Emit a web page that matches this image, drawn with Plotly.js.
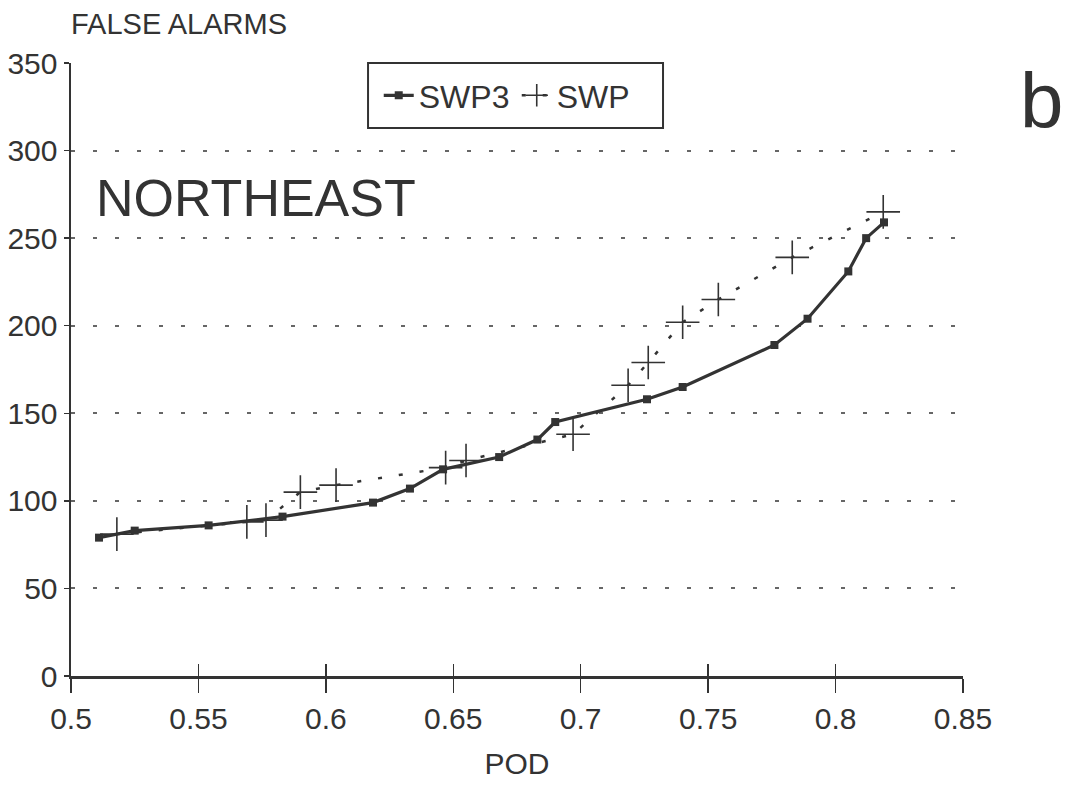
<!DOCTYPE html>
<html>
<head>
<meta charset="utf-8">
<script src="https://cdn.plot.ly/plotly-3.0.1.min.js"></script>
<style>html,body{margin:0;padding:0;background:#fff;}#chart{width:1068px;height:785px;}</style>
</head>
<body>
<div id="chart"></div>
<script>
// SWP3 series (solid line, square markers)
const swp3Pod = [0.511, 0.525, 0.554, 0.583, 0.6185, 0.633, 0.646, 0.668, 0.683, 0.690, 0.726, 0.740, 0.776, 0.789, 0.805, 0.812, 0.819];
const swp3FalseAlarms = [79, 83, 86, 91, 99, 107, 118, 125, 135, 145, 158, 165, 189, 204, 231, 250, 259];
// SWP series (dotted line, plus markers)
const swpPod = [0.518, 0.569, 0.5765, 0.590, 0.604, 0.647, 0.655, 0.697, 0.7186, 0.7265, 0.740, 0.754, 0.783, 0.8187];
const swpFalseAlarms = [81, 88, 89, 105, 109, 119, 123, 138, 166, 179, 202, 215, 239, 265];
// Axis ticks
const xTicks = [0.5, 0.55, 0.6, 0.65, 0.7, 0.75, 0.8, 0.85];
const xTickLabels = ['0.5', '0.55', '0.6', '0.65', '0.7', '0.75', '0.8', '0.85'];
const yTicks = [0, 50, 100, 150, 200, 250, 300, 350];
const yTickLabels = ['0', '50', '100', '150', '200', '250', '300', '350'];

const ink = '#333333';
const font = 'Liberation Sans, Arial, sans-serif';

const traces = [
  {
    x: swp3Pod, y: swp3FalseAlarms, name: 'SWP3', type: 'scatter', mode: 'lines+markers',
    line: {color: ink, width: 3.2},
    marker: {symbol: 'square', size: 8, color: ink}
  },
  {
    x: swpPod, y: swpFalseAlarms, name: 'SWP', type: 'scatter', mode: 'lines+markers',
    line: {color: ink, width: 2.5, dash: '4px,17px'},
    marker: {symbol: 'cross-thin-open', size: 24, line: {color: ink, width: 1.6}}
  },
  // empty helper trace so the upper half of the crossing x ticks is drawn
  {x: [], y: [], xaxis: 'x2', yaxis: 'y', type: 'scatter', mode: 'markers', showlegend: false, hoverinfo: 'skip'}
];

const layout = {
  width: 1068, height: 785,
  paper_bgcolor: '#fff', plot_bgcolor: '#fff',
  margin: {l: 71, r: 105, t: 63, b: 109},
  font: {family: font, color: ink, size: 30},
  showlegend: true,
  legend: {
    orientation: 'h', x: 0.345, y: 0.947, xanchor: 'left', yanchor: 'middle',
    borderwidth: 0, bgcolor: 'rgba(0,0,0,0)',
    font: {family: font, size: 32, color: ink},
    itemwidth: 30, entrywidth: 93
  },
  shapes: [
    {type: 'rect', xref: 'paper', yref: 'paper', x0: 0.333, x1: 0.6637, y0: 0.894, y1: 1.0,
     line: {color: ink, width: 2}, fillcolor: '#fff', layer: 'below'}
  ],
  xaxis: {
    range: [0.5, 0.85], tickvals: xTicks, ticktext: xTickLabels,
    showgrid: false, zeroline: false,
    showline: true, linecolor: ink, linewidth: 2.5,
    ticks: 'outside', ticklen: 14, tickwidth: 1.5, tickcolor: ink,
    tickfont: {family: font, size: 30, color: ink},
    title: {text: 'POD', font: {family: font, size: 30, color: ink}, standoff: 20}
  },
  xaxis2: {
    range: [0.5, 0.85], tickvals: xTicks, overlaying: 'x', anchor: 'y', side: 'bottom',
    showgrid: false, zeroline: false, showline: false, showticklabels: false,
    ticks: 'inside', ticklen: 12, tickwidth: 1.5, tickcolor: ink
  },
  yaxis: {
    range: [0, 350], tickvals: yTicks, ticktext: yTickLabels,
    showgrid: true, gridcolor: '#666', gridwidth: 2, griddash: '4px,18px',
    zeroline: false,
    showline: true, linecolor: ink, linewidth: 2.5,
    ticks: 'outside', ticklen: 5, tickwidth: 1.5, tickcolor: ink,
    tickfont: {family: font, size: 30, color: ink}
  },
  annotations: [
    {text: 'FALSE ALARMS', xref: 'paper', yref: 'paper', x: -0.002, y: 1.0, yshift: 21,
     xanchor: 'left', yanchor: 'bottom', showarrow: false, font: {family: font, size: 29, color: ink}},
    {text: 'NORTHEAST', xref: 'paper', yref: 'paper', x: 0.026, y: 0.78,
     xanchor: 'left', yanchor: 'middle', showarrow: false, font: {family: font, size: 52, color: ink}},
    {text: 'b', xref: 'paper', yref: 'paper', x: 1.062, y: 0.938,
     xanchor: 'left', yanchor: 'middle', showarrow: false, font: {family: font, size: 78, color: ink}}
  ]
};

Plotly.newPlot('chart', traces, layout, {displayModeBar: false, staticPlot: true});
</script>
</body>
</html>
